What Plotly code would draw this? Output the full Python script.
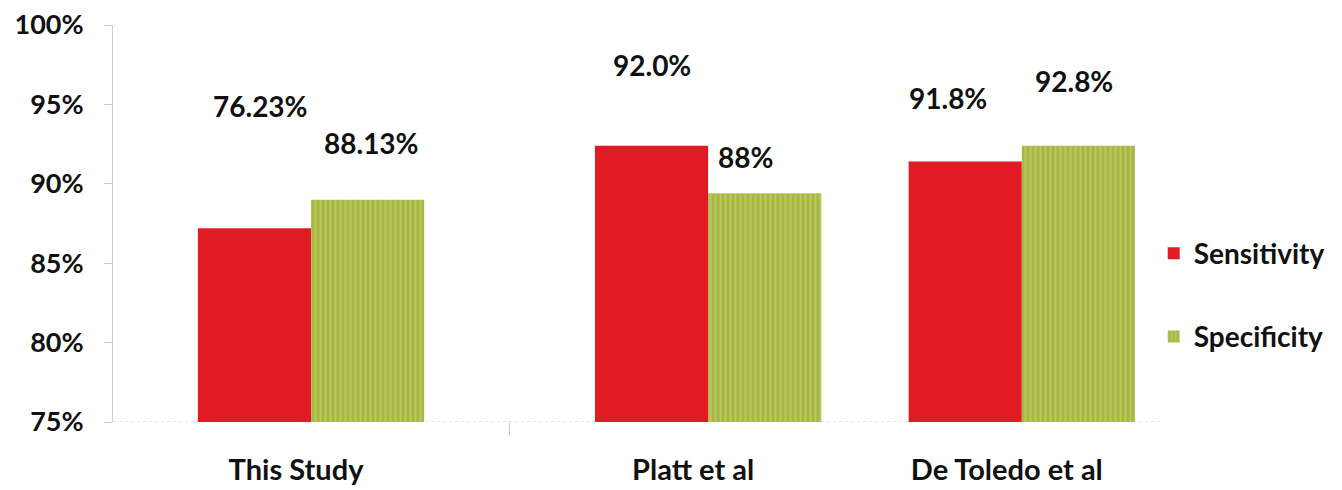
import plotly.graph_objects as go

categories = ["This Study", "Platt et al", "De Toledo et al"]
sensitivity = [87.2, 92.4, 91.4]
specificity = [89.0, 89.4, 92.4]
sens_labels = ["76.23%", "92.0%", "91.8%"]
spec_labels = ["88.13%", "88%", "92.8%"]
sens_label_y = [94.9, 97.5, 95.4]
spec_label_y = [92.6, 91.7, 96.5]
y_ticks = [75, 80, 85, 90, 95, 100]

# layout positions (not data)
xpos = [0.0, 1.0, 1.79]
sens_xshift = [6, 0, -17]
spec_xshift = [4, -19, -4]
bw = 0.285
FONT = "Lato"
FS = 28
RED = "#e01b24"

fig = go.Figure()
fig.add_trace(go.Bar(
    x=xpos, y=sensitivity, name="<b>Sensitivity</b>", width=bw, offset=-bw,
    marker=dict(color=RED, line=dict(width=0)),
    legendgroup="a",
))
fig.add_trace(go.Bar(
    x=xpos, y=specificity, name="<b>Specificity</b>", width=bw, offset=0,
    marker=dict(color="#aab548", line=dict(width=0),
                pattern=dict(shape="|", fgcolor="#c6e070", bgcolor="#aab548",
                             size=5, solidity=0.4)),
    legendgroup="b",
))

for i in range(len(categories)):
    fig.add_annotation(x=xpos[i] - bw / 2, y=sens_label_y[i], text=f"<b>{sens_labels[i]}</b>",
                       xshift=sens_xshift[i], showarrow=False,
                       font=dict(family=FONT, size=FS, color="#111"))
    fig.add_annotation(x=xpos[i] + bw / 2, y=spec_label_y[i], text=f"<b>{spec_labels[i]}</b>",
                       xshift=spec_xshift[i], showarrow=False,
                       font=dict(family=FONT, size=FS, color="#111"))

fig.add_shape(type="line", xref="paper", yref="y", x0=0, x1=1, y0=75, y1=75,
              line=dict(color="#d8cdd8", width=1, dash="dot"), layer="below")

fig.update_layout(
    width=1342, height=490,
    margin=dict(l=105, r=190, t=17, b=76, autoexpand=False),
    plot_bgcolor="white", paper_bgcolor="white",
    barmode="overlay",
    font=dict(family=FONT, size=FS, color="#111"),
    showlegend=True,
    legend=dict(x=0.994, y=0.32, xanchor="left", yanchor="middle",
                font=dict(family=FONT, size=28, color="#111"),
                tracegroupgap=44, itemsizing="constant"),
    xaxis=dict(
        range=[-0.4987, 2.138], automargin=False,
        tickvals=xpos, ticktext=[f"<b>{c}</b>" for c in categories],
        ticks="", showgrid=False, zeroline=False, showline=False,
        ticklabelstandoff=28, ticklabelshift=-15,
        tickfont=dict(family=FONT, size=29, color="#111"),
        minor=dict(tickvals=[0.5], ticks="outside", ticklen=12, tickcolor="#c8c8c8", tickwidth=1),
    ),
    yaxis=dict(
        range=[75, 100], tickvals=y_ticks, automargin=False,
        ticktext=[f"<b>{v}%</b>" for v in y_ticks],
        tickfont=dict(family=FONT, size=27, color="#111"),
        showgrid=False, zeroline=False, showline=True, linecolor="#c4d2d8", linewidth=1,
        ticks="outside", ticklen=8, tickcolor="#c4d2d8", ticklabelstandoff=15,
        ticklabeloverflow="allow",
    ),
)

fig.write_html("out.html")
